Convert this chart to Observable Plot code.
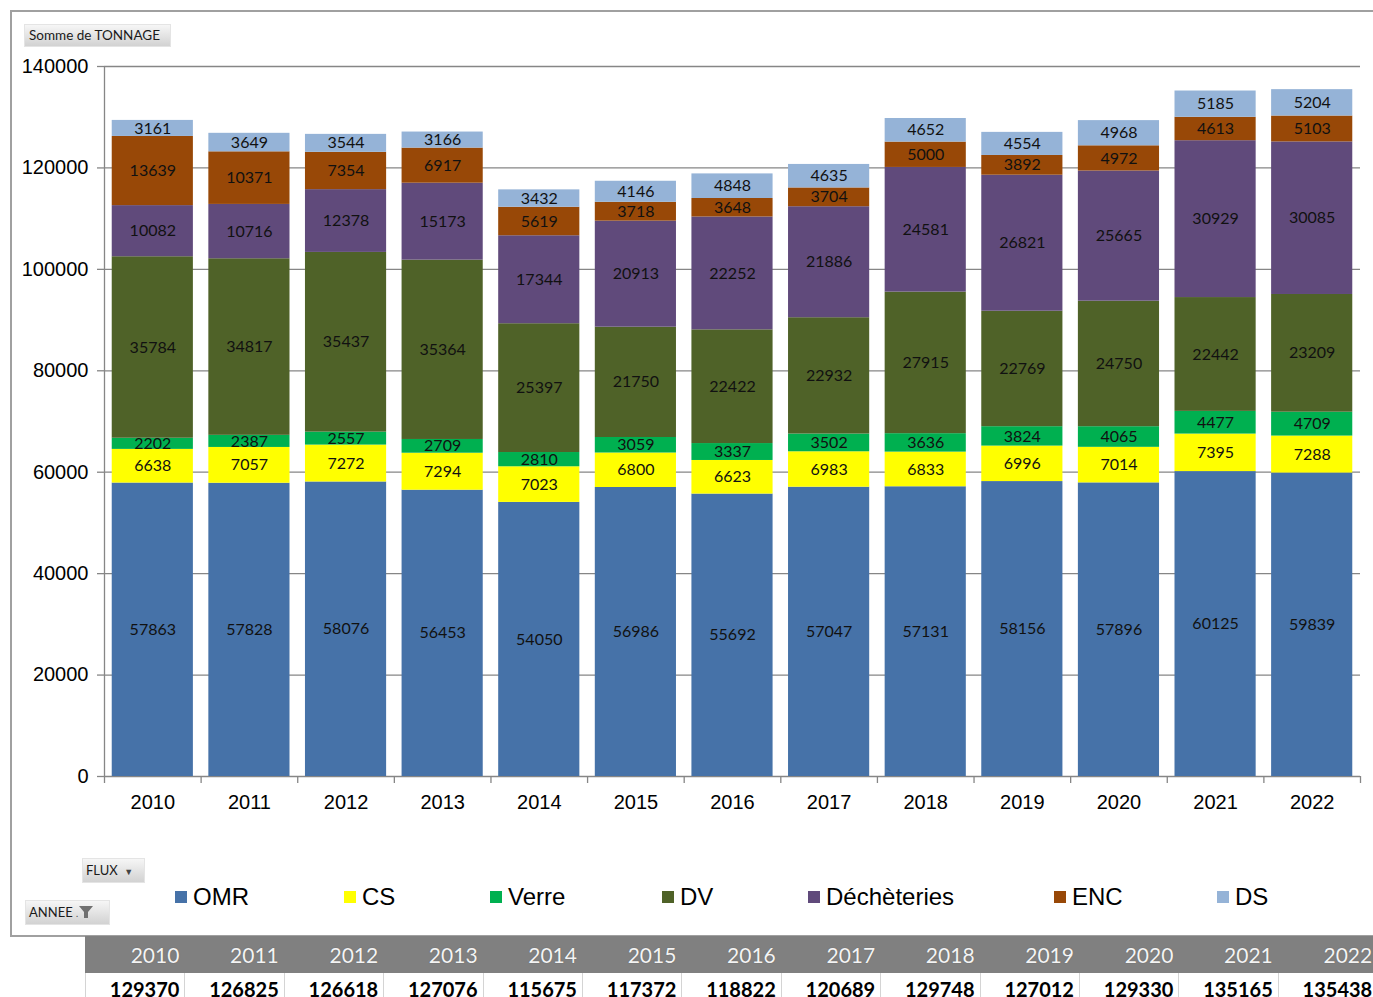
<!DOCTYPE html>
<html><head><meta charset="utf-8">
<script src="https://cdn.jsdelivr.net/npm/d3@7"></script>
<script src="https://cdn.jsdelivr.net/npm/@observablehq/plot@0.6"></script>
<style>
html,body{margin:0;padding:0;background:#fff;}
body{width:1373px;height:997px;overflow:hidden;position:relative;font-family:"Liberation Sans",Arial,sans-serif;}
#chart{position:absolute;left:0;top:0;}
.frame{position:absolute;left:10px;top:10px;width:1400px;height:927px;border:2px solid #a0a0a0;border-right:none;box-sizing:border-box;}
.btn{position:absolute;background:linear-gradient(#f6f6f6,#d2d2d2);border:1px solid #e4e4e4;box-sizing:border-box;font-family:Lato,"Liberation Sans",sans-serif;color:#1a1a1a;white-space:nowrap;}
.leg{position:absolute;font-size:24px;color:#000;white-space:nowrap;line-height:1;}
.leg i{position:absolute;left:0;top:6px;width:12px;height:12px;}
.leg span{position:absolute;left:18px;top:0;}
#table{position:absolute;left:85px;top:936px;}
.cell{position:absolute;box-sizing:border-box;text-align:right;padding-right:5px;font-family:Lato,"Liberation Sans",sans-serif;}
.hd{background:#808080;color:#f4f4f4;font-size:21px;height:37px;line-height:37px;top:0;text-shadow:0 0 1px #555;}
.vl{background:#fff;color:#000;font-weight:bold;font-size:20px;height:40px;line-height:32px;top:37px;border-left:1px solid #d4d4d4;}
</style>
</head><body>
<div class="frame"></div>
<div id="chart"></div>
<div class="btn" style="left:24px;top:24px;width:147px;height:23px;font-size:13.5px;line-height:21px;padding-left:4px;">Somme de TONNAGE</div>
<div class="btn" style="left:82px;top:858px;width:63px;height:25px;font-size:13px;line-height:23px;padding-left:3px;">FLUX&nbsp;&nbsp;<span style="font-size:9px;color:#444">▼</span></div>
<div class="btn" style="left:25px;top:900px;width:85px;height:25px;font-size:13px;line-height:23px;padding-left:3px;">ANNEE <span style="font-size:9px;color:#444">.</span><svg width="16" height="14" style="vertical-align:-2px"><path d="M1,1 L15,1 L10,7 L10,13 L6,13 L6,7 Z" fill="#707070"/></svg></div>
<div id="legend"></div>
<div id="table"></div>
<script>
const years = ["2010","2011","2012","2013","2014","2015","2016","2017","2018","2019","2020","2021","2022"];
const fluxes = ["OMR","CS","Verre","DV","Déchèteries","ENC","DS"];
const colors = ["#4672a8","#ffff00","#00b050","#4f6228","#604a7b","#984807","#95b3d7"];
const omr = [57863,57828,58076,56453,54050,56986,55692,57047,57131,58156,57896,60125,59839];
const cs = [6638,7057,7272,7294,7023,6800,6623,6983,6833,6996,7014,7395,7288];
const verre = [2202,2387,2557,2709,2810,3059,3337,3502,3636,3824,4065,4477,4709];
const dv = [35784,34817,35437,35364,25397,21750,22422,22932,27915,22769,24750,22442,23209];
const decheteries = [10082,10716,12378,15173,17344,20913,22252,21886,24581,26821,25665,30929,30085];
const enc = [13639,10371,7354,6917,5619,3718,3648,3704,5000,3892,4972,4613,5103];
const ds = [3161,3649,3544,3166,3432,4146,4848,4635,4652,4554,4968,5185,5204];
const totals = [129370,126825,126618,127076,115675,117372,118822,120689,129748,127012,129330,135165,135438];
const yTicks = [0,20000,40000,60000,80000,100000,120000,140000];

const seriesValues = [omr, cs, verre, dv, decheteries, enc, ds];
const data = fluxes.flatMap((f, k) => years.map((y, i) => ({year: y, flux: f, value: seriesValues[k][i]})));

const W = 1373, H = 997, mL = 104, mR = 13, mT = 66, mB = 221;
const step = (W - mL - mR) / years.length;
const yMax = 140000;
const tickLen = 7 * yMax / (H - mT - mB);
const axisColor = "#868686";

const chart = Plot.plot({
  width: W, height: H,
  marginLeft: mL, marginRight: mR, marginTop: mT, marginBottom: mB,
  style: {background: "transparent", fontFamily: "'Liberation Sans', Arial, sans-serif", overflow: "visible"},
  x: {domain: years, paddingInner: 0.16, paddingOuter: 0.08, round: false, axis: null},
  y: {domain: [0, yMax], axis: null},
  color: {domain: fluxes, range: colors},
  marks: [
    Plot.ruleY(yTicks, {stroke: axisColor, strokeWidth: 1.3}),
    Plot.barY(data, Plot.stackY({x: "year", y: "value", z: "flux", fill: "flux", order: fluxes})),
    Plot.text(data, Plot.stackY({x: "year", y: "value", z: "flux", order: fluxes,
      text: d => String(d.value), fill: "#111", fontSize: 16, fontFamily: "Lato, 'Liberation Sans', sans-serif"})),
    Plot.axisY(yTicks, {tickSize: 7, tickPadding: 9, tickFormat: d3.format("d"), fontSize: 20,
      label: null, stroke: axisColor, fill: "#000", strokeWidth: 1.3}),
    Plot.ruleX([years[0]], {x: d => d, dx: -step / 2, y1: 0, y2: yMax, stroke: axisColor, strokeWidth: 1.3}),
    Plot.ruleX(years, {x: d => d, dx: -step / 2, y1: 0, y2: -tickLen, stroke: axisColor, strokeWidth: 1.3}),
    Plot.ruleX([years[years.length - 1]], {x: d => d, dx: step / 2, y1: 0, y2: -tickLen, stroke: axisColor, strokeWidth: 1.3}),
    Plot.text(years, {x: d => d, y: 0, dy: 26, text: d => d, fontSize: 20, fill: "#000"})
  ]
});
document.getElementById("chart").appendChild(chart);

// legend
const legendX = [175, 344, 490, 662, 808, 1054, 1217];
const legend = document.getElementById("legend");
fluxes.forEach((f, i) => {
  const d = document.createElement("div");
  d.className = "leg";
  d.style.left = legendX[i] + "px";
  d.style.top = "885px";
  d.innerHTML = `<i style="background:${colors[i]}"></i><span>${f}</span>`;
  legend.appendChild(d);
});

// table
const colW = 99.4;
const table = document.getElementById("table");
years.forEach((y, i) => {
  const h = document.createElement("div");
  h.className = "cell hd";
  h.style.left = (i * colW) + "px";
  h.style.width = colW + "px";
  h.textContent = y;
  table.appendChild(h);
  const v = document.createElement("div");
  v.className = "cell vl";
  v.style.left = (i * colW) + "px";
  v.style.width = colW + "px";
  v.textContent = String(totals[i]);
  table.appendChild(v);
});
</script>
</body></html>
